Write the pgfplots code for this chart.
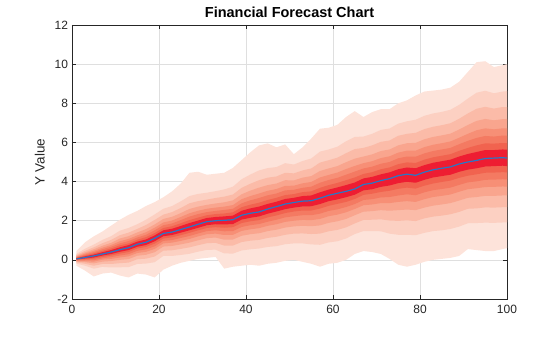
\documentclass[border=0pt]{standalone}
\usepackage{pgfplots}
\pgfplotsset{compat=1.18}
\usepackage{pgfplotstable}
\usepgfplotslibrary{fillbetween}
\usepackage{fontspec}
\setmainfont{Liberation Sans}
\definecolor{c0}{HTML}{FDE3DA}
\definecolor{c1}{HTML}{FCD0C2}
\definecolor{c2}{HTML}{FBBBA8}
\definecolor{c3}{HTML}{F9A58E}
\definecolor{c4}{HTML}{F78F76}
\definecolor{c5}{HTML}{F47A62}
\definecolor{c6}{HTML}{F1634F}
\definecolor{c7}{HTML}{EE1D32}
\definecolor{medblue}{HTML}{2878C8}
\definecolor{axgray}{HTML}{262626}
\definecolor{gridgray}{HTML}{DFDFDF}
\begin{document}
\pgfplotstableread{
x m u0 u1 u2 u3 u4 u5 u6 u7 l1 l2 l3 l4 l5 l6 l7 l0
1 0.05 0.45 0.30 0.24 0.20 0.16 0.13 0.11 0.08 -0.19 -0.13 -0.09 -0.06 -0.03 0.00 0.02 -0.30
3 0.12 0.90 0.57 0.46 0.38 0.32 0.27 0.22 0.18 -0.30 -0.20 -0.12 -0.07 -0.02 0.03 0.07 -0.55
5 0.20 1.20 0.78 0.64 0.54 0.46 0.39 0.33 0.27 -0.45 -0.30 -0.18 -0.09 -0.02 0.06 0.12 -0.85
7 0.30 1.45 1.02 0.85 0.72 0.62 0.54 0.46 0.39 -0.36 -0.21 -0.09 0.01 0.08 0.15 0.22 -0.70
9 0.40 1.75 1.21 1.02 0.87 0.76 0.67 0.58 0.50 -0.39 -0.21 -0.06 0.05 0.14 0.22 0.30 -0.65
11 0.52 2.05 1.49 1.26 1.09 0.95 0.84 0.74 0.64 -0.38 -0.17 0.00 0.12 0.22 0.32 0.41 -0.80
13 0.62 2.30 1.63 1.39 1.21 1.07 0.96 0.84 0.75 -0.37 -0.14 0.04 0.18 0.29 0.40 0.50 -0.90
15 0.80 2.50 1.82 1.58 1.40 1.25 1.14 1.03 0.93 -0.21 0.03 0.21 0.35 0.46 0.58 0.67 -0.70
17 0.90 2.75 2.05 1.78 1.57 1.41 1.28 1.16 1.04 -0.19 0.06 0.26 0.41 0.54 0.66 0.76 -0.75
19 1.10 2.95 2.32 2.04 1.81 1.64 1.51 1.37 1.25 -0.12 0.17 0.39 0.56 0.69 0.83 0.95 -0.90
21 1.35 3.20 2.61 2.31 2.09 1.91 1.77 1.63 1.51 0.20 0.47 0.68 0.84 0.97 1.09 1.21 -0.50
23 1.42 3.50 2.75 2.44 2.20 2.01 1.86 1.72 1.59 0.20 0.49 0.71 0.88 1.01 1.15 1.27 -0.30
25 1.55 3.90 2.99 2.65 2.39 2.19 2.03 1.87 1.73 0.25 0.56 0.79 0.97 1.12 1.26 1.39 -0.15
27 1.68 4.45 3.26 2.89 2.60 2.38 2.21 2.03 1.88 0.31 0.64 0.88 1.07 1.22 1.38 1.51 -0.05
29 1.82 4.50 3.37 3.00 2.72 2.51 2.34 2.16 2.01 0.42 0.75 1.00 1.20 1.35 1.51 1.64 0.05
31 1.95 4.35 3.43 3.08 2.81 2.61 2.44 2.28 2.14 0.51 0.85 1.11 1.31 1.47 1.63 1.77 0.10
33 2.00 4.40 3.51 3.16 2.88 2.67 2.50 2.34 2.19 0.52 0.87 1.14 1.34 1.51 1.67 1.82 0.15
35 2.02 4.45 3.60 3.23 2.94 2.72 2.55 2.37 2.22 0.33 0.73 1.03 1.27 1.46 1.64 1.81 -0.45
37 2.05 4.70 3.74 3.34 3.04 2.80 2.61 2.43 2.26 0.32 0.73 1.04 1.28 1.47 1.67 1.83 -0.35
39 2.28 5.10 4.12 3.68 3.35 3.10 2.89 2.69 2.51 0.48 0.91 1.23 1.48 1.68 1.88 2.06 -0.30
41 2.38 5.50 4.36 3.89 3.54 3.26 3.04 2.82 2.63 0.54 0.98 1.31 1.56 1.77 1.97 2.15 -0.25
43 2.45 5.85 4.57 4.07 3.69 3.39 3.16 2.92 2.72 0.58 1.02 1.36 1.62 1.83 2.03 2.22 -0.30
45 2.60 5.95 4.69 4.20 3.82 3.53 3.30 3.06 2.86 0.66 1.12 1.47 1.74 1.95 2.17 2.36 -0.20
47 2.72 5.75 4.74 4.26 3.90 3.62 3.39 3.17 2.97 0.70 1.18 1.54 1.82 2.05 2.27 2.47 -0.15
49 2.85 5.90 4.94 4.45 4.07 3.78 3.55 3.31 3.11 0.80 1.28 1.65 1.94 2.17 2.39 2.59 -0.05
51 2.93 5.40 4.87 4.42 4.06 3.79 3.58 3.36 3.17 0.84 1.34 1.71 2.00 2.23 2.47 2.67 0.00
53 3.00 5.75 5.05 4.57 4.20 3.91 3.68 3.46 3.26 0.84 1.35 1.74 2.04 2.28 2.52 2.73 -0.10
55 3.02 6.20 5.18 4.67 4.28 3.98 3.74 3.50 3.29 0.79 1.32 1.72 2.03 2.28 2.52 2.74 -0.20
57 3.15 6.70 5.53 4.97 4.54 4.21 3.94 3.68 3.45 0.77 1.34 1.76 2.09 2.36 2.62 2.85 -0.35
59 3.30 6.75 5.64 5.09 4.67 4.34 4.08 3.82 3.59 0.89 1.46 1.89 2.23 2.50 2.76 3.00 -0.20
61 3.40 6.90 5.78 5.22 4.79 4.46 4.19 3.93 3.70 0.95 1.53 1.97 2.31 2.58 2.86 3.09 -0.15
63 3.50 7.30 6.06 5.45 4.99 4.64 4.35 4.07 3.82 1.09 1.66 2.09 2.43 2.70 2.96 3.20 0.00
65 3.62 7.60 6.28 5.66 5.17 4.80 4.51 4.21 3.95 1.32 1.86 2.28 2.60 2.85 3.11 3.33 0.30
67 3.85 7.30 6.30 5.72 5.28 4.94 4.67 4.39 4.16 1.47 2.04 2.46 2.79 3.06 3.32 3.55 0.45
69 3.92 7.55 6.44 5.85 5.39 5.04 4.76 4.48 4.24 1.47 2.05 2.49 2.83 3.10 3.38 3.61 0.40
71 4.05 7.70 6.64 6.03 5.56 5.20 4.91 4.63 4.37 1.46 2.07 2.54 2.90 3.19 3.47 3.73 0.30
73 4.15 7.70 6.71 6.10 5.64 5.29 5.00 4.72 4.47 1.34 2.01 2.51 2.90 3.21 3.53 3.80 0.05
75 4.30 8.00 6.96 6.34 5.85 5.48 5.19 4.89 4.63 1.28 1.99 2.54 2.96 3.29 3.63 3.92 -0.25
77 4.38 8.15 7.08 6.44 5.96 5.58 5.28 4.98 4.72 1.28 2.02 2.57 3.00 3.35 3.69 3.99 -0.35
79 4.32 8.40 7.16 6.49 5.98 5.58 5.27 4.95 4.68 1.26 1.98 2.54 2.96 3.30 3.64 3.94 -0.25
81 4.48 8.60 7.36 6.68 6.16 5.76 5.44 5.12 4.84 1.38 2.12 2.67 3.10 3.45 3.79 4.09 -0.10
83 4.60 8.65 7.48 6.80 6.28 5.88 5.56 5.24 4.96 1.47 2.21 2.77 3.21 3.56 3.90 4.21 0.00
85 4.68 8.70 7.56 6.88 6.36 5.96 5.64 5.32 5.04 1.51 2.26 2.83 3.27 3.62 3.98 4.28 0.05
87 4.75 8.80 7.67 6.98 6.45 6.05 5.72 5.40 5.12 1.58 2.33 2.90 3.34 3.69 4.05 4.35 0.10
89 4.90 9.10 7.92 7.21 6.66 6.24 5.91 5.57 5.28 1.70 2.45 3.03 3.48 3.83 4.19 4.50 0.20
91 5.00 9.60 8.24 7.48 6.89 6.44 6.08 5.72 5.41 1.87 2.61 3.17 3.61 3.96 4.30 4.61 0.55
93 5.08 10.10 8.54 7.72 7.10 6.62 6.23 5.85 5.51 1.88 2.63 3.21 3.66 4.01 4.37 4.68 0.50
95 5.18 10.15 8.64 7.82 7.20 6.72 6.33 5.95 5.61 1.90 2.68 3.27 3.72 4.09 4.45 4.77 0.45
97 5.20 9.85 8.51 7.73 7.13 6.67 6.30 5.94 5.61 1.89 2.67 3.27 3.73 4.10 4.46 4.79 0.45
99 5.22 9.95 8.60 7.81 7.19 6.72 6.35 5.97 5.64 1.91 2.69 3.29 3.75 4.12 4.48 4.81 0.55
100 5.20 10.00 8.62 7.81 7.20 6.72 6.34 5.96 5.63 1.92 2.70 3.29 3.74 4.11 4.47 4.79 0.60
}\data
\begin{tikzpicture}
\begin{axis}[
  at={(0pt,0pt)}, anchor=south west,
  scale only axis, width=435pt, height=274pt,
  xmin=0, xmax=100, ymin=-2, ymax=12,
  xtick={0,20,...,100}, ytick={-2,0,...,12},
  grid=major, grid style={color=gridgray, line width=0.5pt},
  tick align=inside, major tick length=4pt,
  axis line style={color=axgray, line width=0.6pt},
  tick style={color=axgray, line width=0.6pt},
  /pgf/number format/assume math mode=true,
  ticklabel style={font=\fontsize{12}{14}\selectfont, color=axgray},
  xticklabel style={yshift=-3pt},
  yticklabel style={xshift=-0.5pt},
  title={\bfseries Financial Forecast Chart},
  title style={font=\fontsize{14.5}{16}\selectfont, color=black, yshift=-2pt},
  ylabel={Y Value},
  ylabel style={font=\fontsize{13.5}{15}\selectfont, color=axgray, yshift=3pt},
]
\addplot[draw=none, name path=U0] table[x=x,y=u0]{\data};
\addplot[draw=none, name path=L0] table[x=x,y=l0]{\data};
\addplot[draw=none, name path=U1] table[x=x,y=u1]{\data};
\addplot[draw=none, name path=L1] table[x=x,y=l1]{\data};
\addplot[draw=none, name path=U2] table[x=x,y=u2]{\data};
\addplot[draw=none, name path=L2] table[x=x,y=l2]{\data};
\addplot[draw=none, name path=U3] table[x=x,y=u3]{\data};
\addplot[draw=none, name path=L3] table[x=x,y=l3]{\data};
\addplot[draw=none, name path=U4] table[x=x,y=u4]{\data};
\addplot[draw=none, name path=L4] table[x=x,y=l4]{\data};
\addplot[draw=none, name path=U5] table[x=x,y=u5]{\data};
\addplot[draw=none, name path=L5] table[x=x,y=l5]{\data};
\addplot[draw=none, name path=U6] table[x=x,y=u6]{\data};
\addplot[draw=none, name path=L6] table[x=x,y=l6]{\data};
\addplot[draw=none, name path=U7] table[x=x,y=u7]{\data};
\addplot[draw=none, name path=L7] table[x=x,y=l7]{\data};
\addplot[fill=c0, draw=none] fill between[of=U0 and L0];
\addplot[fill=c1, draw=none] fill between[of=U1 and L1];
\addplot[fill=c2, draw=none] fill between[of=U2 and L2];
\addplot[fill=c3, draw=none] fill between[of=U3 and L3];
\addplot[fill=c4, draw=none] fill between[of=U4 and L4];
\addplot[fill=c5, draw=none] fill between[of=U5 and L5];
\addplot[fill=c6, draw=none] fill between[of=U6 and L6];
\addplot[fill=c7, draw=none] fill between[of=U7 and L7];
\addplot[color=medblue, line width=1.2pt] table[x=x,y=m]{\data};
\end{axis}
\path (-72pt,-38pt) rectangle (488pt,299pt);
\end{tikzpicture}
\end{document}
